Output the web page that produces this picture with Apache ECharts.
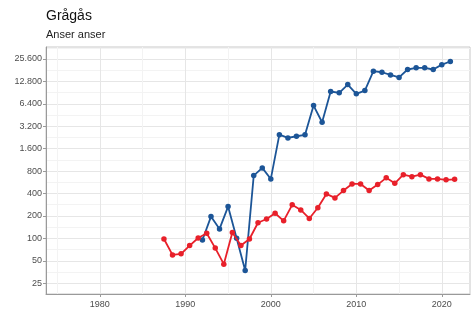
<!DOCTYPE html>
<html>
<head>
<meta charset="utf-8">
<script src="https://cdn.jsdelivr.net/npm/echarts@6/dist/echarts.min.js"></script>
<style>
  html, body { margin: 0; padding: 0; background: #fff; }
  #chart { width: 472px; height: 318px; }
</style>
</head>
<body>
<div id="chart"></div>
<script>
// blue series (counted from 1992)
const blueYears = [1992, 1993, 1994, 1995, 1996, 1997, 1998, 1999, 2000, 2001,
  2002, 2003, 2004, 2005, 2006, 2007, 2008, 2009, 2010, 2011,
  2012, 2013, 2014, 2015, 2016, 2017, 2018, 2019, 2020, 2021]
const blueValues = [95, 196, 134, 267, 100, 37, 696, 883, 628, 2470,
  2230, 2350, 2455, 6070, 3620, 9370, 9000, 11600, 8730, 9650,
  17560, 17000, 15670, 14500, 18500, 19500, 19500, 18500, 21500, 23700]

// red series (counted from 1987), drawn half a year to the right in the source
const redYears = [1987, 1988, 1989, 1990, 1991, 1992, 1993, 1994, 1995, 1996,
  1997, 1998, 1999, 2000, 2001, 2002, 2003, 2004, 2005, 2006,
  2007, 2008, 2009, 2010, 2011, 2012, 2013, 2014, 2015, 2016,
  2017, 2018, 2019, 2020, 2021]
const redValues = [98, 60, 62, 80, 101, 117, 74, 45, 120, 80,
  98, 162, 182, 217, 172, 282, 241, 185, 258, 395,
  349, 438, 538, 538, 438, 527, 649, 549, 717, 674,
  717, 628, 628, 610, 620]
const redShift = 0.5

const yTicks = [25, 50, 100, 200, 400, 800, 1600, 3200, 6400, 12800, 25600]
const xTicks = [1980, 1990, 2000, 2010, 2020]
const xMinor = [1975, 1985, 1995, 2005, 2015]
const yMinor = yTicks.map(v => v * Math.SQRT2).concat([25 / Math.SQRT2])

const xMin = 1973.7, xMax = 2023.3
const yMin = 17.9, yMax = 37100

const chart = echarts.init(document.getElementById('chart'), null, {renderer: 'canvas'})

const labelStyle = {color: '#4d4d4d', fontSize: 9, fontFamily: 'Liberation Sans, Arial, sans-serif'}
const fmt = v => String(Math.round(v)).replace(/\B(?=(\d{3})+(?!\d))/g, '.')

chart.setOption({
  animation: false,
  title: {
    text: 'Grågås',
    subtext: 'Anser anser',
    left: 41,
    top: 4,
    itemGap: 6,
    textStyle: {fontSize: 14, fontWeight: 'normal', color: '#111', fontFamily: 'Liberation Sans, Arial, sans-serif'},
    subtextStyle: {fontSize: 11, color: '#222', fontFamily: 'Liberation Sans, Arial, sans-serif'}
  },
  grid: {left: 46, right: 2, top: 47, bottom: 24, show: true, borderColor: '#c8c8c8', borderWidth: 1},
  xAxis: [
    {
      type: 'value', min: xMin, max: xMax,
      axisLine: {show: true, onZero: false, lineStyle: {color: '#9a9a9a'}},
      axisTick: {show: true, length: 3, customValues: xTicks, lineStyle: {color: '#9a9a9a'}},
      axisLabel: Object.assign({customValues: xTicks, margin: 6, formatter: v => String(v)}, labelStyle),
      splitLine: {show: true, lineStyle: {color: '#e6e6e6', width: 1}}
    },
    {
      type: 'value', min: xMin, max: xMax, position: 'top',
      axisLine: {show: false}, axisLabel: {show: false},
      axisTick: {show: false, customValues: xMinor},
      splitLine: {show: true, lineStyle: {color: '#f3f3f3', width: 1}}
    }
  ],
  yAxis: [
    {
      type: 'log', logBase: 2, min: yMin, max: yMax,
      axisLine: {show: true, lineStyle: {color: '#9a9a9a'}},
      axisTick: {show: true, length: 3, customValues: yTicks, lineStyle: {color: '#9a9a9a'}},
      axisLabel: Object.assign({customValues: yTicks, margin: 4, formatter: fmt}, labelStyle),
      splitLine: {show: true, lineStyle: {color: '#e6e6e6', width: 1}}
    },
    {
      type: 'log', logBase: 2, min: yMin, max: yMax, position: 'right',
      axisLine: {show: false}, axisLabel: {show: false},
      axisTick: {show: false, customValues: yMinor},
      splitLine: {show: true, lineStyle: {color: '#f3f3f3', width: 1}}
    }
  ],
  series: [
    {
      type: 'line',
      data: blueYears.map((y, i) => [y, blueValues[i]]),
      symbol: 'circle', symbolSize: 5.5,
      itemStyle: {color: '#1c5597'},
      lineStyle: {color: '#1c5597', width: 1.8},
      z: 3
    },
    {
      type: 'line',
      data: redYears.map((y, i) => [y + redShift, redValues[i]]),
      symbol: 'circle', symbolSize: 5.5,
      itemStyle: {color: '#e8202a'},
      lineStyle: {color: '#e8202a', width: 1.8},
      z: 4
    }
  ]
})
</script>
</body>
</html>
